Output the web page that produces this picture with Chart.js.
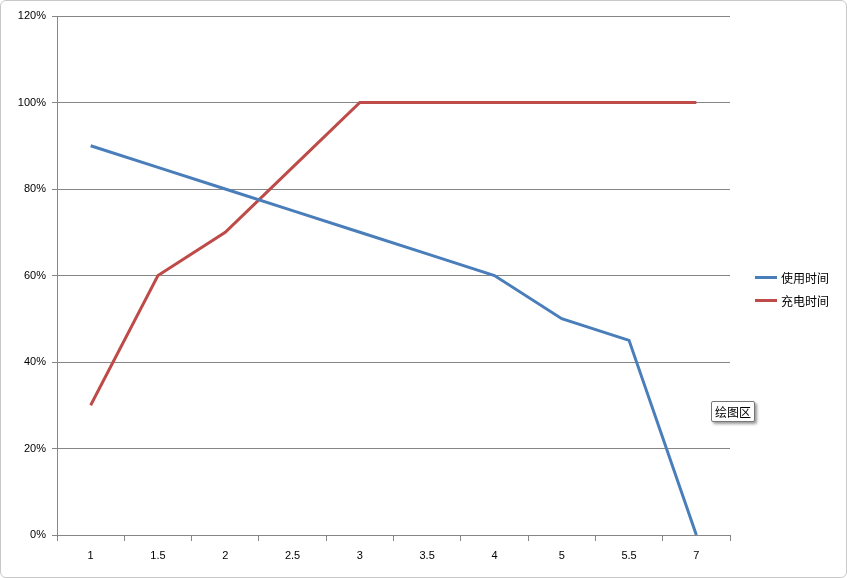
<!DOCTYPE html>
<html><head><meta charset="utf-8">
<script src="https://cdn.jsdelivr.net/npm/chart.js@4"></script>
<style>
body{margin:0;background:#fff;font-family:"Noto Sans CJK SC","DejaVu Sans",sans-serif;}
#wrap{position:relative;width:847px;height:578px;}
#frame{position:absolute;left:0;top:0;width:845px;height:576px;border:1px solid #c8c8c8;border-radius:6px;}
.leg{position:absolute;left:755px;font-size:12px;color:#000;display:flex;align-items:center;}
.leg span{display:inline-block;width:22px;height:3px;margin-right:4px;}
#tip{position:absolute;left:711px;top:401px;font-size:12px;padding:1px 3px;border:1px solid #777;background:#fff;box-shadow:2px 2px 3px #999;border-radius:2px;}
</style></head><body>
<div id="wrap"><div id="frame"></div><canvas id="c" width="847" height="578"></canvas>
<div class="leg" style="top:269px"><span style="background:#4a7ebb"></span>使用时间</div>
<div class="leg" style="top:292px"><span style="background:#be4b48"></span>充电时间</div>
<div id="tip">绘图区</div></div>
<script>
const categories=["1","1.5","2","2.5","3","3.5","4","5","5.5","7"];
const useTime=[90,85,80,75,70,65,60,50,45,0];
const chargeTime=[30,60,70,85,100,100,100,100,100,100];
const seriesNames=["使用时间","充电时间"];
new Chart(document.getElementById('c'),{type:'line',
data:{labels:categories,datasets:[
{label:seriesNames[0],data:useTime,borderColor:'#4a7ebb',borderWidth:3,pointRadius:0,tension:0},
{label:seriesNames[1],data:chargeTime,borderColor:'#be4b48',borderWidth:3,pointRadius:0,tension:0}]},
options:{responsive:false,animation:false,
layout:{padding:{left:0,right:117,top:16,bottom:0}},
plugins:{legend:{display:false},tooltip:{enabled:false}},
scales:{
x:{offset:true,afterFit:s=>{s.height=43;},grid:{offset:true,drawOnChartArea:false,drawTicks:true,tickLength:6,color:'#868686'},border:{color:'#868686'},ticks:{color:'#000',font:{size:11},padding:8,maxRotation:0}},
y:{min:0,max:120,afterFit:s=>{s.width=57;},ticks:{stepSize:20,color:'#000',font:{size:11},callback:v=>v+'%',padding:6},grid:{color:'#868686',tickLength:5},border:{color:'#868686'}}
}}});
</script></body></html>
